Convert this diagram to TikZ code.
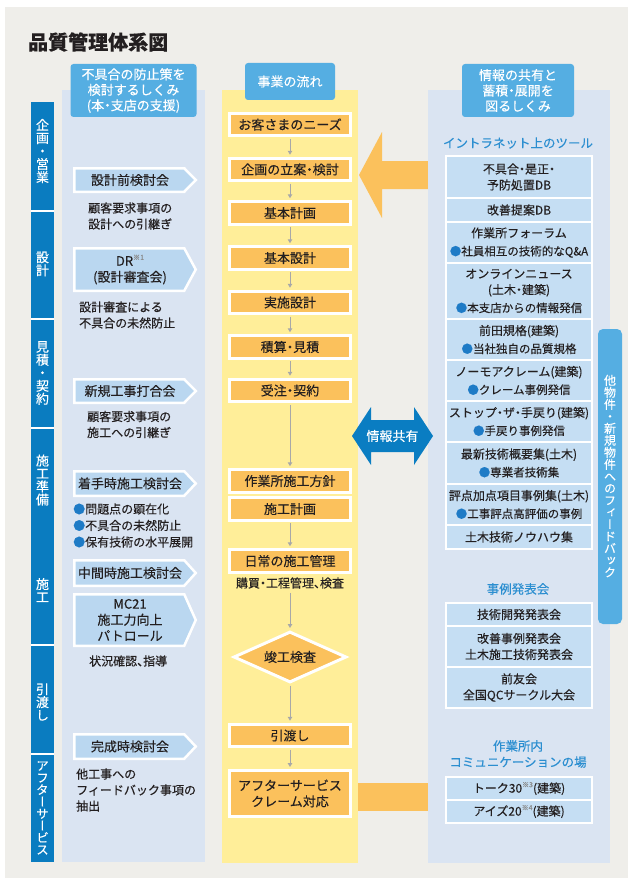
\documentclass[tikz,border=0pt]{standalone}
\usepackage{fontspec}
\setmainfont{Noto Sans CJK JP}[RawFeature=+halt, FakeBold=0.25]
\newfontfamily\jpv{Noto Sans CJK JP}[RawFeature=+vert, FakeBold=0.25]
\usetikzlibrary{shapes.geometric,arrows.meta}
\definecolor{bggrey}{HTML}{EFEEEA}
\definecolor{panelblue}{HTML}{DAE4F2}
\definecolor{stripblue}{HTML}{0A7CC0}
\definecolor{headblue}{HTML}{55AEE2}
\definecolor{itemblue}{HTML}{BAD7F0}
\definecolor{yellowp}{HTML}{FFEE99}
\definecolor{orangeb}{HTML}{FBC15C}
\definecolor{rboxc}{HTML}{C5DEF3}
\definecolor{btext}{HTML}{2B8ED0}
\definecolor{bulletc}{HTML}{1E7BC6}
\definecolor{txtc}{HTML}{231F20}
\definecolor{dblue}{HTML}{0A7DC2}
\definecolor{arrowgray}{HTML}{A8A8A8}
\definecolor{supgray}{HTML}{8A8A8A}
\lineskiplimit=-20pt
\newcommand\fs[2]{\fontsize{#1}{#2}\selectfont}
\newcommand\sups[1]{\raisebox{0.45em}{\textcolor{supgray}{\fontsize{7}{7}\selectfont #1}}}
\newcommand\bl[1]{{\fs{11.5}{16}\textcolor{bulletc}{●}#1}}
\newcommand\litem[4]{%
  \pgfmathsetmacro\lmid{(#1+#2)/2}
  \filldraw[litem] (74.25,#1+1.25) -- (184.25,#1+1.25) -- (195.75,\lmid) -- (184.25,#2-1.25) -- (74.25,#2-1.25) -- cycle;
  \node[ltitle] (#3) at (130,\lmid) {#4};
}
\begin{document}
\begin{tikzpicture}[x=1pt,y=-1pt,
  every node/.style={inner sep=0pt},
  head/.style={fill=headblue, rounded corners=3pt, text=white, align=center, font=\fs{13}{15.5}},
  striptxt/.style={text=white, align=center, font=\jpv\fs{13}{13}},
  tabtxt/.style={text=white, align=center, font=\jpv\fs{12}{12}},
  obox/.style={fill=orangeb, draw=white, line width=3pt, minimum width=121, minimum height=22.5, text=txtc, align=center, font=\fs{13}{16}},
  dia/.style={diamond, aspect=2.2, fill=orangeb, draw=white, line width=3pt, minimum width=113, minimum height=51, text=txtc, font=\fs{13}{16}},
  flow/.style={draw=arrowgray, line width=1pt, -{Triangle[length=4pt,width=4.5pt]}, shorten >=2pt, shorten <=1.5pt},
  litem/.style={fill=itemblue, draw=white, line width=2.5pt, line join=miter},
  ltitle/.style={text=txtc, align=center, font=\fs{13}{16}},
  desc/.style={text=txtc, align=left, font=\fs{12}{16}},
  rbox/.style={fill=rboxc, minimum width=144, text=txtc, align=center, font=\fs{12}{16}},
  btitle/.style={text=btext, align=center, font=\fs{12.5}{16}},
  bigshape/.style={line join=miter}
]
\useasboundingbox (0,0) rectangle (632,880);
\fill[bggrey] (5,7) rectangle (628,878);

% panels
\fill[panelblue] (62,90) rectangle (205,862);
\fill[yellowp] (222,90) rectangle (358,863);

% orange arrow (tools -> planning)
\fill[orangeb, bigshape] (429,161) -- (382,161) -- (382,132) -- (359,175) -- (382,218) -- (382,189) -- (429,189) -- cycle;
% orange bar (after service)
\fill[orangeb] (358,783) rectangle (429,811);

\fill[panelblue] (428,90) rectangle (610,863);

% left strip
\fill[stripblue] (31,102) rectangle (54,862);
\foreach \y in {211,319,428,645,754} \draw[white, line width=1.5pt] (31,\y) -- (54,\y);
\node[striptxt] (s1) at (42.5,151) {企\\画\\・\\営\\業};
\node[striptxt] (s2) at (42.5,264) {設\\計};
\node[striptxt] (s3) at (42.5,373) {見\\積\\・\\契\\約};
\node[striptxt] (s4) at (42.5,480) {施\\工\\準\\備};
\node[striptxt] (s5) at (42.5,590) {施\\工};
\node[striptxt] (s6) at (42.5,702) {引\\渡\\し};
\node[striptxt, font=\jpv\fs{12.5}{12}] (s7) at (42.5,808) {ア\\フ\\タ\\ー\\サ\\ー\\ビ\\ス};

% title
\node[anchor=west, text=txtc, font=\bfseries\fs{20}{24}] (title) at (28,42) {品質管理体系図};

% headers
\node[head, minimum width=126, minimum height=53] (h1) at (133.5,90.5) {不具合の防止策を\\検討するしくみ\\(本・支店の支援)};
\node[head, minimum width=90, minimum height=37] (h2) at (290,81.5) {事業の流れ};
\node[head, minimum width=112, minimum height=53] (h3) at (518,90.5) {情報の共有と\\蓄積・展開を\\図るしくみ};

% left items
\litem{167}{193}{L1}{設計前検討会}
\litem{247}{292}{L2}{DR\sups{※1}\\(設計審査会)}
\litem{378}{404}{L3}{新規工事打合会}
\litem{470}{497}{L4}{着手時施工検討会}
\litem{559}{587}{L5}{中間時施工検討会}
\litem{593}{647}{L6}{MC21\\施工力向上\\パトロール}
\litem{733}{760}{L7}{完成時検討会}

\node[desc, anchor=west] (d1) at (88,216) {顧客要求事項の\\設計への引継ぎ};
\node[desc, anchor=west] (d2) at (79,315) {設計審査による\\不具合の未然防止};
\node[desc, anchor=west] (d3) at (87,424.5) {顧客要求事項の\\施工への引継ぎ};
\node[desc, anchor=west, font=\fs{12}{16.5}] (d4) at (73,525.5) {\textcolor{bulletc}{●}問題点の顕在化\\\textcolor{bulletc}{●}不具合の未然防止\\\textcolor{bulletc}{●}保有技術の水平展開};
\node[desc, anchor=west] (d5) at (89,661) {状況確認、指導};
\node[desc, anchor=west] (d6) at (76,790) {他工事への\\フィードバック事項の\\抽出};

% business flow
\node[obox] (n1) at (290,124.5) {お客さまのニーズ};
\node[obox] (n2) at (290,169.5) {企画の立案・検討};
\node[obox] (n3) at (290,213) {基本計画};
\node[obox] (n4) at (290,258) {基本設計};
\node[obox] (n5) at (290,302.5) {実施設計};
\node[obox] (n6) at (290,347) {積算・見積};
\node[obox] (n7) at (290,390.5) {受注・契約};
\node[obox] (n8) at (290,481) {作業所施工方針};
\node[obox] (n9) at (290,509) {施工計画};
\node[obox] (n10) at (290,561) {日常の施工管理};
\node[text=txtc, font=\fs{12}{14}] (kobai) at (290,583) {購買・工程管理、検査};
\node[dia] (n11) at (290,657) {竣工検査};
\node[obox] (n12) at (290,735.5) {引渡し};
\node[obox, minimum height=46] (n13) at (290,793.5) {アフターサービス\\クレーム対応};

\draw[flow] (n1) -- (n2);
\draw[flow] (n2) -- (n3);
\draw[flow] (n3) -- (n4);
\draw[flow] (n4) -- (n5);
\draw[flow] (n5) -- (n6);
\draw[flow] (n6) -- (n7);
\draw[flow] (n7) -- (n8);
\draw[flow] (n9) -- (n10);
\draw[flow, shorten <=4pt] (kobai) -- (n11);
\draw[flow] (n11) -- (n12);
\draw[flow] (n12) -- (n13);

% right column
\node[btitle] (t1) at (518,143) {イントラネット上のツール};
\fill[white] (445,155) rectangle (593,550);
\node[rbox, minimum height=40] (r1) at (519,177) {不具合・是正・\\予防処置DB};
\node[rbox, minimum height=22] (r2) at (519,210) {改善提案DB};
\node[rbox, minimum height=39] (r3) at (519,242.5) {作業所フォーラム\\[2pt]\bl{社員相互の技術的なQ\&A}};
\node[rbox, minimum height=54] (r4) at (519,291) {オンラインニュース\\(土木・建築)\\[2pt]\bl{本支店からの情報発信}};
\node[rbox, minimum height=39] (r5) at (519,339.5) {前田規格(建築)\\[2pt]\bl{当社独自の品質規格}};
\node[rbox, minimum height=39] (r6) at (519,380.5) {ノーモアクレーム(建築)\\[2pt]\bl{クレーム事例発信}};
\node[rbox, minimum height=39] (r7) at (519,421.5) {ストップ・ザ・手戻り(建築)\\[2pt]\bl{手戻り事例発信}};
\node[rbox, minimum height=40] (r8) at (519,463) {最新技術概要集(土木)\\[2pt]\bl{専業者技術集}};
\node[rbox, minimum height=39] (r9) at (519,504.5) {評点加点項目事例集(土木)\\[2pt]\bl{工事評点高評価の事例}};
\node[rbox, minimum height=22] (r10) at (519,537) {土木技術ノウハウ集};

\node[btitle] (t2) at (518,589) {事例発表会};
\fill[white] (445,602) rectangle (593,709);
\node[rbox, minimum height=21] (e1) at (519,614.5) {技術開発発表会};
\node[rbox, minimum height=39] (e2) at (519,646.5) {改善事例発表会\\土木施工技術発表会};
\node[rbox, minimum height=39] (e3) at (519,687.5) {前友会\\全国QCサークル大会};

\node[btitle] (t3) at (518,754) {作業所内\\コミュニケーションの場};
\fill[white] (445,776) rectangle (593,824);
\node[rbox, minimum height=21] (c1) at (519,788.5) {トーク30\sups{※3}(建築)};
\node[rbox, minimum height=21] (c2) at (519,811.5) {アイズ20\sups{※4}(建築)};

% feedback tab
\fill[headblue, rounded corners=5pt] (598,329) rectangle (622,624);
\node[tabtxt] (fb) at (610,476) {他\\物\\件\\・\\新\\規\\物\\件\\へ\\の\\フ\\ィ\\ー\\ド\\バ\\ッ\\ク};

% information sharing double arrow
\fill[dblue, bigshape] (352,436) -- (371,407) -- (371,420) -- (414,420) -- (414,407) -- (433,436) -- (414,465) -- (414,452) -- (371,452) -- (371,465) -- cycle;
\node[text=white, font=\fs{13}{15}] (share) at (392.5,436) {情報共有};
\end{tikzpicture}
\end{document}
